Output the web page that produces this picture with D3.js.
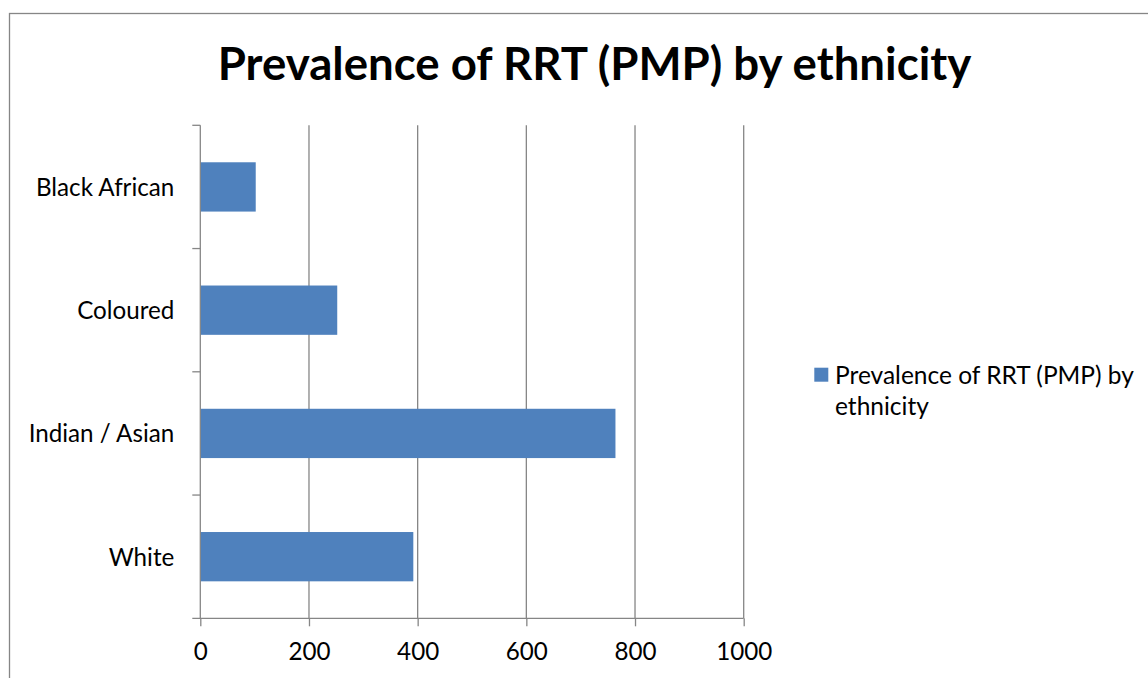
<!DOCTYPE html>
<html>
<head>
<meta charset="utf-8">
<script src="https://cdn.jsdelivr.net/npm/d3@7/dist/d3.min.js"></script>
<style>
  html, body { margin: 0; padding: 0; background: #fff; }
  svg { display: block; }
</style>
</head>
<body>
<svg id="chart" width="1148" height="678"></svg>
<script>
const categories = ["Black African", "Coloured", "Indian / Asian", "White"];
const values = [102, 252, 764, 392];
const xTicks = [0, 200, 400, 600, 800, 1000];
const titleText = "Prevalence of RRT (PMP) by ethnicity";
const legendLines = ["Prevalence of RRT (PMP) by", "ethnicity"];

const FONT = "Lato, 'Open Sans', sans-serif";
const GRAY = "#868686";
const BAR = "#4F81BD";
const LABEL_SIZE = 24.2;

const svg = d3.select("#chart");

// outer border (extends beyond right/bottom edges)
svg.append("rect")
  .attr("x", 9.5).attr("y", 13.5)
  .attr("width", 1300).attr("height", 1000)
  .attr("fill", "none").attr("stroke", GRAY).attr("stroke-width", 1.3);

const plot = { left: 200.3, right: 743.7, top: 125.3, bottom: 618.3 };

const x = d3.scaleLinear().domain([0, 1000]).range([plot.left, plot.right]);
const y = d3.scaleBand().domain(categories).range([plot.top, plot.bottom]).padding(0);

// gridlines
svg.append("g").selectAll("line")
  .data(xTicks.filter(d => d > 0))
  .join("line")
  .attr("x1", d => x(d)).attr("x2", d => x(d))
  .attr("y1", plot.top).attr("y2", plot.bottom)
  .attr("stroke", GRAY).attr("stroke-width", 1.3);

// bars
const barH = y.bandwidth() * 0.4;
svg.append("g").selectAll("rect")
  .data(categories.map((c, i) => ({ c, v: values[i] })))
  .join("rect")
  .attr("x", x(0))
  .attr("y", d => y(d.c) + (y.bandwidth() - barH) / 2)
  .attr("width", d => x(d.v) - x(0))
  .attr("height", barH)
  .attr("fill", BAR);

// x axis
const xAxis = d3.axisBottom(x).tickValues(xTicks).tickFormat(d3.format("d"))
  .tickSize(8).tickPadding(17).tickSizeOuter(0);
const gx = svg.append("g").attr("transform", `translate(0,${plot.bottom})`).call(xAxis);
gx.select(".domain").remove();
gx.append("line")
  .attr("x1", plot.left - 8).attr("x2", plot.right)
  .attr("y1", 0).attr("y2", 0)
  .attr("stroke", GRAY).attr("stroke-width", 1.3);
gx.selectAll(".tick line").attr("stroke", GRAY).attr("stroke-width", 1.3);
gx.selectAll(".tick text")
  .attr("fill", "#000").attr("font-family", FONT).attr("font-size", LABEL_SIZE);

// y axis
const gy = svg.append("g").attr("transform", `translate(${plot.left},0)`);
gy.append("line")
  .attr("x1", 0).attr("x2", 0)
  .attr("y1", plot.top).attr("y2", plot.bottom)
  .attr("stroke", GRAY).attr("stroke-width", 1.3);
const bounds = categories.map(c => y(c));
gy.selectAll("line.yt").data(bounds).join("line")
  .attr("class", "yt")
  .attr("x1", -8).attr("x2", 0)
  .attr("y1", d => d).attr("y2", d => d)
  .attr("stroke", GRAY).attr("stroke-width", 1.3);
gy.selectAll("text").data(categories).join("text")
  .attr("x", -26)
  .attr("y", d => y(d) + y.bandwidth() / 2)
  .attr("dy", "0.37em")
  .attr("text-anchor", "end")
  .attr("font-family", FONT).attr("font-size", LABEL_SIZE)
  .attr("fill", "#000")
  .text(d => d);

// title
svg.append("text")
  .attr("x", 594.5).attr("y", 80)
  .attr("text-anchor", "middle")
  .attr("font-family", FONT).attr("font-weight", "bold").attr("font-size", 45.6)
  .attr("fill", "#000")
  .text(titleText);

// legend
const lg = svg.append("g");
lg.append("rect")
  .attr("x", 814.3).attr("y", 367.7).attr("width", 14).attr("height", 14)
  .attr("fill", BAR);
lg.selectAll("text").data(legendLines).join("text")
  .attr("x", 835)
  .attr("y", (d, i) => 383.5 + i * 31)
  .attr("font-family", FONT).attr("font-size", 24.5)
  .attr("fill", "#000")
  .text(d => d);
</script>
</body>
</html>
